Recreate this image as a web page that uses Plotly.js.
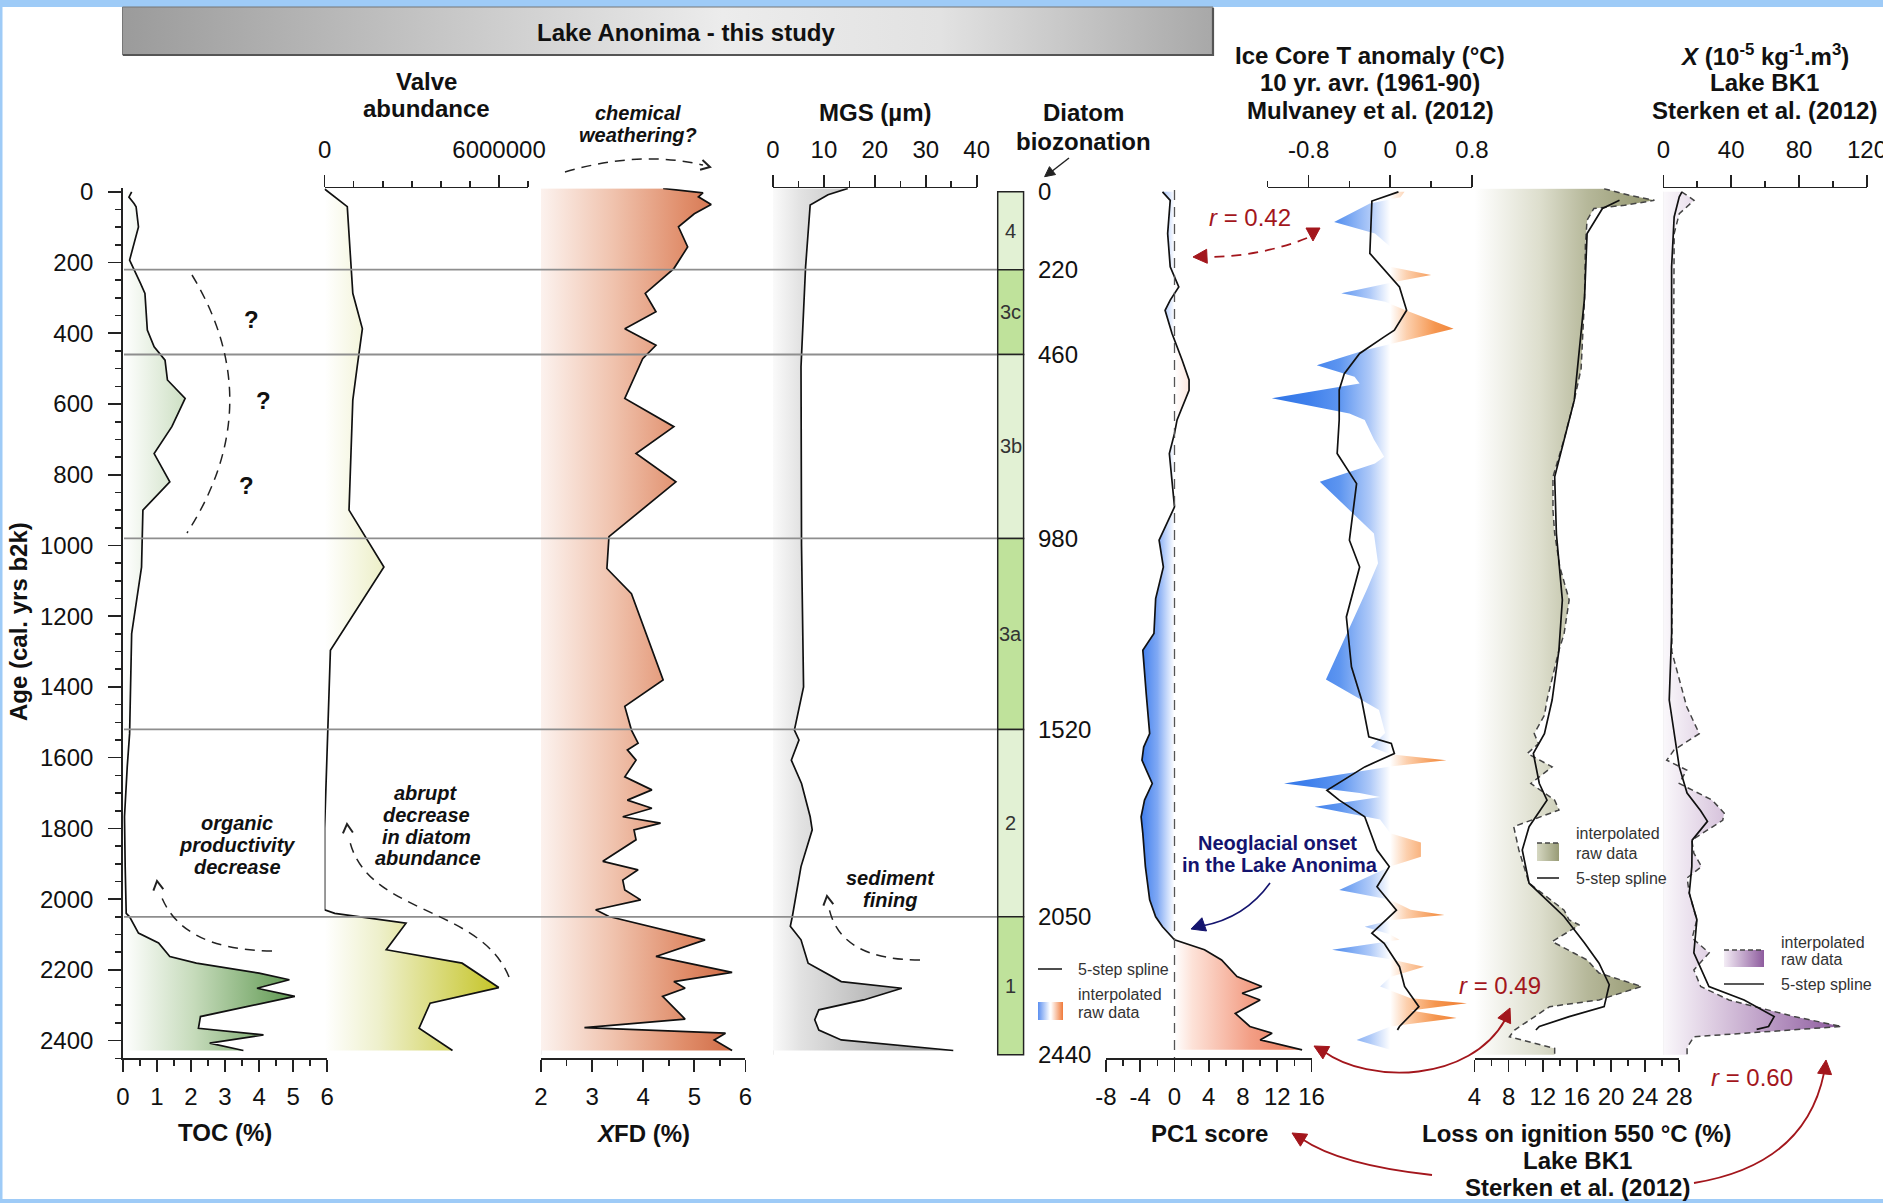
<!DOCTYPE html>
<html><head><meta charset="utf-8">
<script src="https://cdn.plot.ly/plotly-3.0.1.min.js"></script>
<style>html,body{margin:0;padding:0;background:#fff;}#chart{width:1883px;height:1203px;}</style>
</head><body><div id="chart"></div>
<script>
// ================= DATA =================
const zoneNames  = ['4','3c','3b','3a','2','1'];
const zoneBounds = [0,220,460,980,1520,2050,2440];

const tocAge = [0,15,33,42,99,193,259,287,391,438,476,532,584,664,740,820,900,1061,1249,1532,1626,1767,1908,2040,2050,2096,2124,2162,2181,2209,2228,2252,2275,2332,2365,2384,2407,2428];
const tocVal = [0.26,0.18,0.33,0.39,0.46,0.20,0.52,0.65,0.72,0.92,1.24,1.31,1.83,1.44,0.92,1.38,0.59,0.55,0.26,0.20,0.13,0.05,0.07,0.10,0.20,0.46,1.05,1.38,2.16,4.00,4.89,3.94,5.05,2.28,2.22,4.13,2.55,3.54];

const valveAge = [-8,42,287,387,495,589,900,1061,1296,1800,2030,2040,2068,2143,2181,2250,2294,2365,2428];
const valveVal = [0,780000,970000,1300000,1120000,970000,840000,2040000,200000,0,0,350000,2800000,2120000,4730000,5990000,3630000,3250000,4400000];

const xfdAge = [-9.6,2.8,14,36,62,99,156,217,287,339,387,434,472,584,664,740,820,975,1065,1136,1380,1455,1522,1559,1578,1607,1654,1691,1720,1743,1767,1785,1804,1832,1893,1917,1946,1974,2002,2030,2049,2115,2162,2207,2233,2252,2275,2339,2363,2379,2398,2428];
const xfdVal = [4.39,5.17,5.08,5.33,5.00,4.69,4.87,4.60,4.04,4.25,3.64,4.25,3.99,3.64,4.60,3.86,4.64,3.33,3.29,3.77,4.39,3.64,3.77,3.90,3.69,3.86,3.64,4.17,3.69,4.17,3.60,4.34,3.82,3.86,3.21,3.90,3.60,3.64,3.95,3.07,3.33,5.21,4.25,5.74,4.60,4.82,4.38,4.82,2.85,5.61,5.39,5.74];

const mgsAge = [-9.6,8,37,212,495,1000,1400,1522,1550,1607,1673,1767,1804,1908,2049,2077,2115,2181,2233,2252,2285,2313,2341,2370,2398,2428];
const mgsVal = [14.7,10.8,7.3,6.4,5.5,5.6,6.0,4.2,5.1,3.6,5.6,7.3,7.7,5.5,3.8,3.4,5.5,6.9,13.4,25.3,17.8,9.0,8.2,9.0,13.4,35.4];

const pc1Age = [0,24,118,212,269,306,335,400,476,532,561,645,683,740,891,985,1061,1150,1249,1296,1420,1532,1570,1607,1640,1673,1720,1767,1814,1908,2002,2050,2078,2115,2143,2172,2219,2247,2266,2285,2323,2360,2379,2398,2426];
const pc1Val = [-1.4,-0.5,-0.8,-0.5,0.5,-0.5,-1.1,-0.3,0.9,1.7,1.7,0.3,0.0,-0.6,0.0,-1.8,-1.3,-2.2,-2.4,-3.7,-3.3,-2.9,-3.6,-3.8,-3.2,-2.6,-3.5,-3.9,-3.7,-3.4,-2.9,-2.2,-1.4,0.0,3.5,5.5,7.3,10.2,7.9,10.0,7.1,8.8,11.4,10.0,14.9];

const iceRawAge = [0,15,33,85,118,155,212,235,254,287,311,335,387,424,448,490,523,542,584,627,645,700,749,768,820,966,1050,1125,1379,1465,1530,1569,1590,1607,1625,1673,1700,1711,1739,1775,1814,1840,1880,1908,1974,2002,2030,2045,2060,2078,2100,2115,2143,2170,2191,2220,2247,2280,2294,2315,2336,2360,2398,2426];
const iceRawVal = [0.14,0.10,-0.20,-0.55,-0.15,0.00,0.00,0.40,0.05,-0.48,-0.05,0.15,0.62,0.10,-0.25,-0.72,-0.35,-0.30,-1.16,-0.40,-0.25,-0.16,-0.06,-0.15,-0.69,-0.16,-0.12,-0.23,-0.63,-0.11,-0.05,-0.19,0.00,0.55,0.00,-1.04,-0.30,-0.10,-0.74,-0.10,0.00,0.30,0.30,0.00,-0.50,0.00,0.20,0.53,0.00,-0.25,0.00,0.09,-0.57,0.00,0.33,0.00,-0.10,0.20,0.75,0.20,0.65,0.00,-0.33,0.00];
const iceSplAge = [0,26,174,269,335,391,410,457,514,560,645,740,825,948,985,1061,1202,1343,1437,1541,1560,1588,1626,1692,1720,1767,1861,1908,1965,2031,2096,2125,2191,2247,2304,2360,2370];
const iceSplVal = [0.08,-0.18,-0.20,0.09,0.16,0.04,-0.06,-0.30,-0.45,-0.50,-0.50,-0.52,-0.33,-0.38,-0.40,-0.30,-0.43,-0.38,-0.28,-0.21,0.01,0.04,-0.25,-0.62,-0.50,-0.25,-0.13,-0.01,-0.13,0.06,-0.18,-0.06,0.09,0.14,0.28,0.09,0.07];

const loiRawAge = [-9,10,24,38,47,80,150,300,500,589,700,806,900,966,1060,1154,1250,1296,1437,1480,1532,1560,1588,1626,1673,1720,1748,1795,1861,1955,2031,2059,2073,2120,2153,2172,2209,2247,2285,2304,2370,2389,2422,2440];
const loiRawVal = [19.2,22.2,25.1,21.6,18.0,17.2,17.0,16.9,16.5,15.7,14.5,13.2,13.2,13.4,14.0,15.1,14.5,13.9,12.5,12.2,11.0,11.5,10.2,13.1,10.6,13.4,13.9,8.6,9.2,10.4,14.5,15.1,16.3,13.1,15.7,17.2,18.6,23.6,18.6,12.8,8.7,8.1,13.4,13.4];
const loiSplAge = [24,47,118,300,589,806,966,1154,1296,1437,1532,1588,1673,1720,1795,1861,1955,2049,2124,2181,2242,2304,2332,2360,2370];
const loiSplVal = [21.0,19.0,17.2,16.9,15.7,13.4,13.6,14.3,13.9,13.1,12.2,10.9,11.6,12.5,10.4,9.6,10.4,14.5,16.9,18.6,19.8,19.2,15.1,11.6,11.2];

const susRawAge = [0,24,62,118,500,900,1300,1456,1532,1578,1607,1635,1673,1720,1757,1777,1833,1870,1908,1940,1983,2030,2058,2110,2152,2200,2247,2285,2332,2360,2389,2420,2440];
const susRawVal = [10.8,18.1,9.4,6.4,6.0,5.5,5.0,13.8,21.2,6.4,2.0,13.8,9.4,28.8,35.9,35.0,16.8,18.0,22.5,14.0,15.3,18.0,19.8,17.0,27.0,18.0,22.0,38.7,77.0,105.0,18.0,14.0,14.0];
const susSplAge = [0,14,71,212,600,1000,1249,1437,1532,1626,1700,1750,1780,1833,1908,1983,2058,2152,2247,2285,2332,2360,2368];
const susSplVal = [11.0,9.4,6.4,4.9,4.9,4.9,4.9,3.5,6.4,9.4,14.0,22.0,26.0,17.0,16.8,15.3,19.8,18.0,26.9,47.6,65.3,62.0,55.0];

const pc1Ticks = [-8,-4,0,4,8,12,16];
const iceTicks = [-0.8,0,0.8];

// ================= LAYOUT HELPERS =================
const W = 1883, H = 1203;
const FONT = 'Liberation Sans, Arial, sans-serif';
const PX = x => x / W, PY = y => 1 - y / H;
const pp = (x, y) => (x / W).toFixed(5) + ',' + (1 - y / H).toFixed(5);
const Y_TOP = 188.3, Y_BOT = 1058.3;
const hy = v => String(v);

function axis(d0, d1, range, side, extra) {
  return Object.assign({
    domain: [PX(d0), PX(d1)], range: range, anchor: 'y', side: side,
    showline: true, linecolor: '#222', linewidth: 1.6, mirror: false,
    ticks: 'outside', ticklen: 12, tickwidth: 1.6, tickcolor: '#222',
    showgrid: false, zeroline: false, tickangle: 0, ticklabeloverflow: 'allow',
    tickfont: {size: 24, color: '#111', family: FONT}, ticklabelstandoff: side === 'top' ? 7 : 4,
    fixedrange: true
  }, extra);
}
const minor = d => ({dtick: d, ticklen: 6, tickwidth: 1.6, tickcolor: '#222', ticks: 'outside', showgrid: false});

function prof(xa, vals, ages, line, grad) {
  const t = {type: 'scatter', mode: 'lines', x: vals, y: ages, xaxis: xa, yaxis: 'y',
             line: line, hoverinfo: 'skip', showlegend: false};
  if (grad) { t.fill = 'tozerox'; t.fillgradient = Object.assign({type: 'horizontal'}, grad); }
  return t;
}
const BL = {color: '#111', width: 1.7};
const DASH = {color: '#444', width: 1.5, dash: '6px,4px'};
const LDASH = '10px,7px';

// ================= TRACES =================
const zoneMid = zoneNames.map((_, i) => (zoneBounds[i] + zoneBounds[i + 1]) / 2);
const zoneThk = zoneNames.map((_, i) => zoneBounds[i + 1] - zoneBounds[i]);

const data = [
  prof('x', tocVal, tocAge, BL, {start: 0, stop: 5.2, colorscale: [[0,'#ffffff'],[0.4,'#c6dbbb'],[1,'#58944a']]}),
  prof('x2', valveVal, valveAge, BL, {start: 0, stop: 6.2e6, colorscale: [[0,'#ffffff'],[0.3,'#eef0cc'],[1,'#c3c21e']]}),
  prof('x3', xfdVal, xfdAge, BL, {start: 2, stop: 6, colorscale: [[0,'#fcf2ee'],[0.35,'#f0c3ae'],[0.7,'#e08d6a'],[1,'#cc623c']]}),
  prof('x4', mgsVal, mgsAge, BL, {start: 0, stop: 36, colorscale: [[0,'#fafafa'],[0.15,'#e2e2e2'],[1,'#8a8a8a']]}),
  {type: 'bar', orientation: 'h', xaxis: 'x5', yaxis: 'y', x: zoneNames.map(() => 1), y: zoneMid,
   width: zoneThk, base: 0,
   marker: {color: zoneNames.map((_, i) => i % 2 ? '#bfe29b' : '#e2f1d4'), line: {color: '#222', width: 1.5}},
   hoverinfo: 'skip', showlegend: false},
  prof('x6', pc1Val, pc1Age, BL, {start: -8, stop: 16, colorscale: [[0,'#2f6fe0'],[0.17,'#3f7eee'],[0.25,'#80a9f4'],[0.31,'#dbe7fd'],[0.333,'#ffffff'],[0.42,'#fde2d8'],[0.7,'#f39f86'],[1,'#e8704e']]}),
  prof('x7', iceRawVal, iceRawAge, {width: 0, color: 'rgba(0,0,0,0)'}, {start: -1.2, stop: 0.8, colorscale: [[0,'#2f74e6'],[0.2,'#3f80ec'],[0.35,'#5d95f0'],[0.5,'#aec9f8'],[0.6,'#ffffff'],[0.68,'#fcd0ae'],[0.82,'#f5964f'],[1,'#ee772a']]}),
  prof('x7', iceSplVal, iceSplAge, BL, null),
  prof('x8', loiRawVal, loiRawAge, DASH, {start: 4, stop: 26, colorscale: [[0,'#ffffff'],[0.35,'#dddecd'],[0.6,'#b6b89a'],[1,'#8d9066']]}),
  prof('x8', loiSplVal, loiSplAge, BL, null),
  prof('x9', susRawVal, susRawAge, DASH, {start: 0, stop: 110, colorscale: [[0,'#faf8fb'],[0.25,'#dfcfe3'],[1,'#88539a']]}),
  prof('x9', susSplVal, susSplAge, BL, null)
];

// ================= SHAPES =================
const shapes = [];
const frame = [[0,0,W,7],[0,0,2.5,H],[0,1199,W,H]];
frame.forEach(r => shapes.push({type:'rect', xref:'paper', yref:'paper', x0:PX(r[0]), x1:PX(r[2]), y0:PY(r[3]), y1:PY(r[1]), fillcolor:'#9ecbf7', line:{width:0}, layer:'above'}));
shapes.push({type:'rect', xref:'paper', yref:'paper', x0:PX(122.5), x1:PX(1213), y0:PY(55), y1:PY(7), line:{color:'#777', width:1}, fillcolor:'rgba(0,0,0,0)'});
shapes.push({type:'path', xref:'paper', yref:'paper', path:`M${pp(123,55)} L${pp(1213,55)} L${pp(1213,8)}`, line:{color:'#555', width:2.2}});
zoneBounds.slice(1, -1).forEach(b => shapes.push({type:'line', xref:'paper', yref:'y', x0:PX(124), x1:PX(997), y0:b, y1:b, line:{color:'#8e8e8e', width:1.8}, layer:'above'}));
shapes.push({type:'line', xref:'x6', yref:'y', x0:0, x1:0, y0:-5, y1:2450, line:{color:'#555', width:1.3, dash:LDASH}, layer:'above'});
[['x3',2],['x4',0],['x9',0]].forEach(e => shapes.push({type:'line', xref:e[0], yref:'y', x0:e[1], x1:e[1], y0:0, y1:2440, line:{color:'#e4e4e4', width:1.2}, layer:'below'}));

function curve(d, color, width, dash) {
  shapes.push({type:'path', xref:'paper', yref:'paper', path:d, line:{color:color, width:width, dash:dash || 'solid'}, layer:'above'});
}
function tri(tx, ty, dx, dy, len, hw, color) {
  const n = Math.hypot(dx, dy); dx /= n; dy /= n;
  const bx = tx - dx * len, by = ty - dy * len, nx = -dy, ny = dx;
  shapes.push({type:'path', xref:'paper', yref:'paper', path:`M${pp(tx,ty)} L${pp(bx+nx*hw,by+ny*hw)} L${pp(bx-nx*hw,by-ny*hw)} Z`, fillcolor:color, line:{color:color, width:1}, layer:'above'});
}
function chev(tx, ty, dx, dy, len, hw, color) {
  const n = Math.hypot(dx, dy); dx /= n; dy /= n;
  const bx = tx - dx * len, by = ty - dy * len, nx = -dy, ny = dx;
  shapes.push({type:'path', xref:'paper', yref:'paper', path:`M${pp(bx+nx*hw,by+ny*hw)} L${pp(tx,ty)} L${pp(bx-nx*hw,by-ny*hw)}`, line:{color:color, width:2}, layer:'above'});
}
const RED = '#a3161c', NAVY = '#14146e';
curve(`M${pp(192,275)} Q${pp(270,404)} ${pp(187,533)}`, '#222', 1.5, LDASH);
curve(`M${pp(565,172)} Q${pp(640,150)} ${pp(703,165)}`, '#222', 1.5, LDASH); chev(710,167,1,0.25,9,5,'#222');
curve(`M${pp(272,951)} Q${pp(180,950)} ${pp(160,893)}`, '#222', 1.5, LDASH); chev(157,881,-0.15,-1,9,5,'#222');
curve(`M${pp(509,977)} C${pp(480,905)} ${pp(365,915)} ${pp(349,838)}`, '#222', 1.5, LDASH); chev(347,824,-0.1,-1,9,5,'#222');
curve(`M${pp(920,960)} Q${pp(840,960)} ${pp(829,908)}`, '#222', 1.5, LDASH); chev(827,896,-0.15,-1,9,5,'#222');
curve(`M${pp(1069,158)} L${pp(1051,172)}`, '#222', 1.5); tri(1044.6,176.7,-1,0.77,10,5,'#222');
curve(`M${pp(1307,238)} Q${pp(1262,256)} ${pp(1210,257)}`, RED, 1.8, LDASH); tri(1313,241,0,1,13,7,RED); tri(1193,257,-1,0.05,14,7,RED);
curve(`M${pp(1270,883)} Q${pp(1245,918)} ${pp(1202,926)}`, NAVY, 1.6); tri(1191,929,-1,0.35,14,7,NAVY);
curve(`M${pp(1323,1051)} C${pp(1370,1085)} ${pp(1470,1082)} ${pp(1505,1020)}`, RED, 1.8); tri(1314,1046,-1,-0.55,14,7,RED); tri(1510,1008,0.45,-1,14,7,RED);
curve(`M${pp(1432,1175)} Q${pp(1340,1165)} ${pp(1302,1139)}`, RED, 1.8); tri(1292,1133,-1,-0.6,14,7,RED);
curve(`M${pp(1694,1183)} Q${pp(1805,1165)} ${pp(1824,1073)}`, RED, 1.8); tri(1826,1060,0.1,-1,14,7,RED);
[[1038,1062,969],[1537,1559,878],[1724,1764,984]].forEach(l => curve(`M${pp(l[0],l[2])} L${pp(l[1],l[2])}`, '#222', 1.6));
curve(`M${pp(1537,843)} L${pp(1559,843)}`, '#444', 1.4, '5px,3px');
curve(`M${pp(1724,950)} L${pp(1764,950)}`, '#444', 1.4, '5px,3px');

// ================= IMAGES (gradient swatches) =================
function gradImg(x0, y0, x1, y1, stops) {
  const st = stops.map(s => `<stop offset='${s[0]}' stop-color='${s[1]}'/>`).join('');
  const svg = `<svg xmlns='http://www.w3.org/2000/svg' width='100' height='100' viewBox='0 0 100 100' preserveAspectRatio='none'><defs><linearGradient id='g' x1='0' y1='0' x2='1' y2='0'>${st}</linearGradient></defs><rect width='100' height='100' fill='url(#g)'/></svg>`;
  return {source: 'data:image/svg+xml;charset=utf-8,' + encodeURIComponent(svg), xref:'paper', yref:'paper',
          x: PX(x0), y: PY(y0), sizex: (x1 - x0) / W, sizey: (y1 - y0) / H, xanchor:'left', yanchor:'top', sizing:'stretch', layer:'below'};
}
const images = [
  gradImg(122.5, 7, 1213, 55, [[0,'#9b9b9b'],[0.55,'#ececec'],[0.75,'#e2e2e2'],[1,'#a8a8a8']]),
  gradImg(1038, 1002, 1050, 1020, [[0,'#5b8ff0'],[1,'#ffffff']]),
  gradImg(1051, 1002, 1063, 1020, [[0,'#ffffff'],[1,'#f07a3a']]),
  gradImg(1537, 843, 1559, 861, [[0,'#d6d8c2'],[1,'#989b76']]),
  gradImg(1724, 950, 1764, 967, [[0,'#f3ecf5'],[1,'#8e5c9e']])
];

// ================= ANNOTATIONS =================
function T(x, y, text, size, o) {
  return Object.assign({xref:'paper', yref:'paper', x:PX(x), y:PY(y), text:text, showarrow:false,
    font:{size:size, color:'#111', family:FONT}, xanchor:'center', yanchor:'middle'}, o || {});
}
const B = s => '<b>' + s + '</b>', BI = s => '<b><i>' + s + '</i></b>';
const small = (x, y, s) => T(x, y, s, 16, {xanchor:'left', font:{size:16, color:'#333', family:FONT}});
const ann = [
  T(686, 32, B('Lake Anonima - this study'), 24),
  T(18, 622, B('Age (cal. yrs b2k)'), 24, {textangle: -90}),
  T(426, 81, B('Valve'), 24), T(426, 109, B('abundance'), 24),
  T(638, 113, BI('chemical'), 20), T(638, 135, BI('weathering?'), 20),
  T(875, 112, B('MGS (µm)'), 24),
  T(1083, 113, B('Diatom'), 24), T(1083, 141, B('biozonation'), 24),
  T(1370, 55, B('Ice Core T anomaly (°C)'), 24), T(1370, 83, B('10 yr. avr. (1961-90)'), 24), T(1370, 110, B('Mulvaney et al. (2012)'), 24),
  T(1764, 55, B('<i>X</i> (10<sup>-5</sup> kg<sup>-1</sup>.m<sup>3</sup>)'), 24), T(1764, 83, B('Lake BK1'), 24), T(1764, 110, B('Sterken et al. (2012)'), 24),
  T(225, 1132, B('TOC (%)'), 24), T(643, 1133, B('<i>X</i>FD (%)'), 24), T(1209, 1133, B('PC1 score'), 24),
  T(1577, 1133, B('Loss on ignition 550 °C (%)'), 24), T(1577, 1160, B('Lake BK1'), 24), T(1577, 1187, B('Sterken et al. (2012)'), 24),
  T(252, 319, B('?'), 24), T(263, 401, B('?'), 24), T(247, 485, B('?'), 24),
  T(237, 823, BI('organic'), 20), T(237, 845, BI('productivity'), 20), T(237, 867, BI('decrease'), 20),
  T(426, 793, BI('abrupt'), 20), T(426, 815, BI('decrease'), 20), T(426, 837, BI('in diatom'), 20), T(428, 858, BI('abundance'), 20),
  T(890, 878, BI('sediment'), 20), T(890, 900, BI('fining'), 20),
  T(1250, 218, '<i>r</i> = 0.42', 24, {font:{size:24, color:RED, family:FONT}}),
  T(1500, 985, '<i>r</i> = 0.49', 24, {font:{size:24, color:RED, family:FONT}}),
  T(1752, 1077, '<i>r</i> = 0.60', 24, {font:{size:24, color:RED, family:FONT}}),
  T(1277, 843, B('Neoglacial onset'), 20, {font:{size:20, color:NAVY, family:FONT}}),
  T(1280, 865, B('in the Lake Anonima'), 20, {font:{size:20, color:NAVY, family:FONT}}),
  small(1076, 969, '5-step spline'), small(1076, 994, 'interpolated'), small(1076, 1012, 'raw data'),
  small(1574, 833, 'interpolated'), small(1574, 853, 'raw data'), small(1574, 878, '5-step spline'),
  small(1779, 942, 'interpolated'), small(1779, 959, 'raw data'), small(1779, 984, '5-step spline')
];
// zone names (inside the column) and boundary ages (to its right)
zoneNames.forEach((z, i) => ann.push({xref:'paper', yref:'y', x:PX(1010.6), y:zoneMid[i], text:z, showarrow:false,
  xanchor:'center', yanchor:'middle', font:{size:20, color:'#333', family:FONT}}));
zoneBounds.forEach(b => ann.push({xref:'paper', yref:'y', x:PX(1036), y:b, text:String(b), showarrow:false,
  xanchor:'left', yanchor:'middle', font:{size:24, color:'#111', family:FONT}}));

// ================= LAYOUT =================
const layout = {
  width: W, height: H, margin: {l:0, r:0, t:0, b:0}, autosize: false,
  paper_bgcolor: '#ffffff', plot_bgcolor: 'rgba(0,0,0,0)', showlegend: false,
  font: {family: FONT, color: '#111'}, hovermode: false, bargap: 0,
  yaxis: {domain: [PY(Y_BOT), PY(Y_TOP)], range: [2450, -10], anchor: 'x', showline: true, linecolor: '#222', linewidth: 1.6,
          ticks: 'outside', ticklen: 13, tickwidth: 1.6, tickcolor: '#222', tick0: 0, dtick: 200, minor: minor(50),
          showgrid: false, zeroline: false, tickfont: {size: 24, color: '#111', family: FONT}, ticklabelstandoff: 10, fixedrange: true},
  xaxis:  axis(122.8, 327.2, [0, 6], 'bottom', {dtick: 1, tick0: 0, minor: minor(0.5)}),
  xaxis2: axis(324.6, 528.1, [0, 7e6], 'top', {tickmode: 'array', tickvals: [0, 6e6], ticktext: ['0', '6000000'], minor: minor(1e6)}),
  xaxis3: axis(541, 745.4, [2, 6], 'bottom', {dtick: 1, tick0: 2, minor: minor(0.5)}),
  xaxis4: axis(773, 976.7, [0, 40], 'top', {dtick: 10, tick0: 0, minor: minor(5)}),
  xaxis5: {domain: [PX(996.4), PX(1024.9)], range: [-0.05, 1.05], anchor: 'y', visible: false, fixedrange: true},
  xaxis6: axis(1106, 1311.5, [-8, 16], 'bottom', {tickmode: 'array', tickvals: pc1Ticks, ticktext: pc1Ticks.map(hy), minor: minor(2)}),
  xaxis7: axis(1267.7, 1472, [-1.2, 0.8], 'top', {tickmode: 'array', tickvals: iceTicks, ticktext: iceTicks.map(hy), minor: {tickmode:'array', tickvals: [-1.2, -0.4, 0.4], ticklen: 6, tickwidth: 1.6, tickcolor: '#222', ticks: 'outside'}}),
  xaxis8: axis(1474.5, 1679.2, [4, 28], 'bottom', {dtick: 4, tick0: 4, minor: minor(2)}),
  xaxis9: axis(1663.3, 1867, [0, 120], 'top', {dtick: 40, tick0: 0, minor: minor(20)}),
  shapes: shapes, annotations: ann, images: images
};

Plotly.newPlot('chart', data, layout, {staticPlot: true, displayModeBar: false});
</script></body></html>
